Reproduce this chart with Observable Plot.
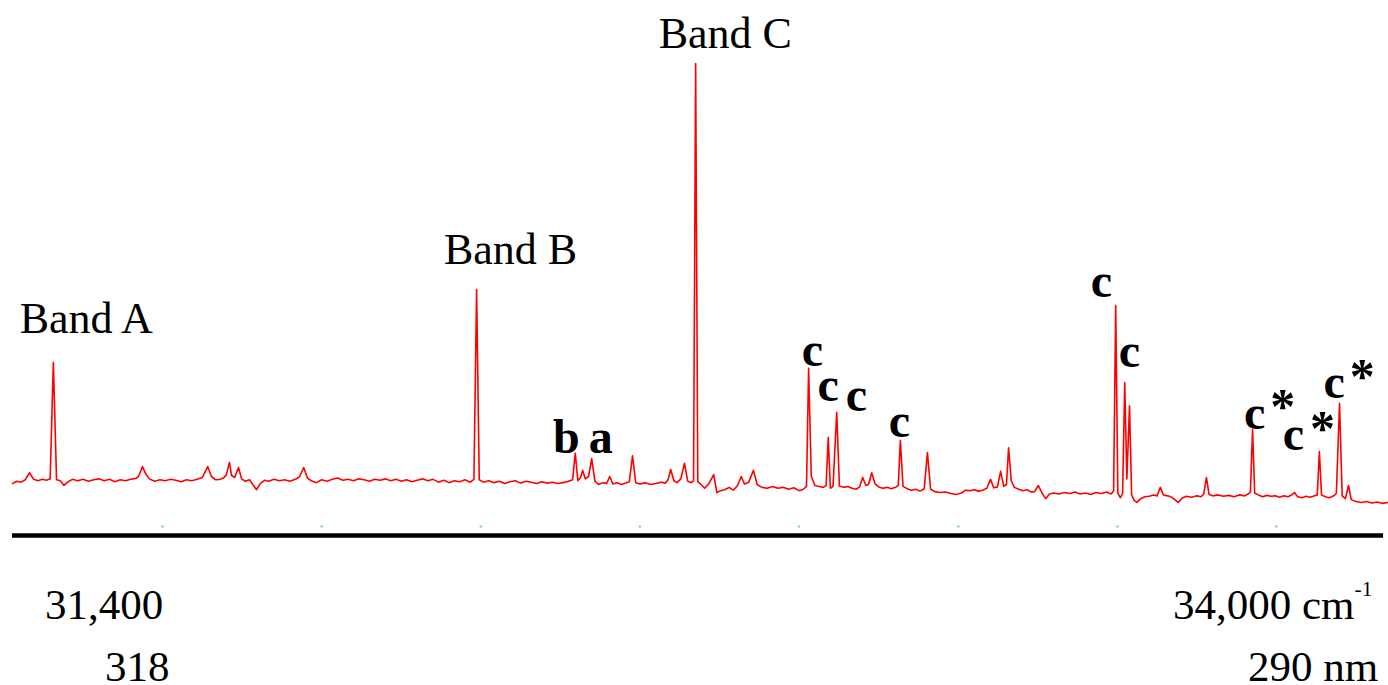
<!DOCTYPE html>
<html>
<head>
<meta charset="utf-8">
<script src="https://cdn.jsdelivr.net/npm/d3@7"></script>
<script src="https://cdn.jsdelivr.net/npm/@observablehq/plot@0.6"></script>
<style>
  html, body { margin: 0; padding: 0; background: #fff; }
  #wrap { position: relative; width: 1388px; height: 685px; overflow: hidden; font-family: "Liberation Serif", "Times New Roman", serif; color: #000; }
  #chart { position: absolute; left: 0; top: 0; }
  .cap { position: absolute; font-size: 43px; line-height: 0.8; white-space: nowrap; }
  .cap sup { font-size: 0.5em; line-height: 0; vertical-align: 0; position: relative; top: -1.05em; }
</style>
</head>
<body>
<div id="wrap">
  <div id="chart"></div>
  <div class="cap" style="left:45px; top:588px;">31,400</div>
  <div class="cap" style="left:105px; top:650px;">318</div>
  <div class="cap" style="left:1173px; top:588px;">34,000 cm<sup>-1</sup></div>
  <div class="cap" style="left:1248px; top:650px;">290 nm</div>
</div>
<script>
// Excitation spectrum: [wavenumber (cm-1), signal (arb. units, Band C = 100)]
const spectrum = [
  [31417, 11.0], [31425, 11.5], [31433, 11.3], [31441, 11.8], [31449, 13.3], [31457, 11.9],
  [31465, 11.6], [31473, 11.9], [31481, 11.7], [31488, 12.0], [31494, 36.7], [31500, 11.8],
  [31507, 11.6], [31514, 10.6], [31522, 11.4], [31530, 11.9], [31540, 11.6], [31550, 11.9],
  [31560, 11.5], [31570, 11.8], [31580, 12.0], [31590, 11.6], [31600, 11.9], [31610, 11.4],
  [31620, 11.8], [31630, 11.6], [31640, 11.9], [31650, 12.1], [31655, 12.6], [31662, 14.6],
  [31668, 13.1], [31675, 12.0], [31685, 11.5], [31695, 11.8], [31705, 11.6], [31715, 11.9],
  [31725, 11.7], [31735, 11.4], [31745, 11.8], [31755, 11.6], [31765, 11.9], [31775, 12.3],
  [31785, 14.6], [31792, 12.5], [31800, 11.8], [31808, 11.9], [31815, 12.2], [31820, 12.8],
  [31826, 15.5], [31830, 12.7], [31836, 12.3], [31843, 14.4], [31849, 12.0], [31856, 11.5],
  [31864, 11.8], [31870, 10.8], [31877, 9.7], [31884, 11.0], [31892, 11.7], [31900, 11.5],
  [31910, 11.9], [31920, 11.6], [31930, 11.8], [31940, 11.5], [31950, 11.9], [31958, 12.4],
  [31966, 14.4], [31973, 12.2], [31980, 11.6], [31990, 11.2], [32000, 11.8], [32010, 11.5],
  [32020, 11.9], [32030, 12.2], [32040, 11.7], [32050, 11.9], [32060, 11.6], [32070, 12.0],
  [32080, 11.8], [32090, 11.5], [32100, 11.9], [32110, 11.7], [32120, 12.0], [32130, 11.6],
  [32140, 11.9], [32150, 11.5], [32160, 11.8], [32170, 11.4], [32180, 11.7], [32190, 12.0],
  [32200, 11.6], [32210, 11.9], [32220, 11.3], [32230, 11.7], [32240, 11.2], [32250, 11.6],
  [32260, 11.4], [32270, 11.8], [32280, 11.3], [32287, 11.9], [32292, 52.1], [32297, 11.8],
  [32305, 11.3], [32315, 11.6], [32325, 11.2], [32335, 11.5], [32345, 11.0], [32355, 11.4],
  [32365, 11.6], [32375, 11.1], [32385, 11.5], [32395, 11.3], [32405, 11.0], [32415, 11.4],
  [32425, 11.1], [32435, 11.3], [32445, 11.0], [32455, 11.2], [32465, 11.5], [32473, 11.8],
  [32478, 17.4], [32483, 11.6], [32488, 12.3], [32492, 13.8], [32497, 12.0], [32503, 12.5],
  [32509, 16.3], [32515, 11.5], [32522, 10.8], [32530, 11.2], [32537, 11.0], [32543, 12.5],
  [32549, 10.9], [32557, 11.2], [32565, 10.8], [32573, 11.1], [32580, 11.4], [32586, 16.9],
  [32592, 11.2], [32600, 10.9], [32610, 11.2], [32620, 10.8], [32630, 11.0], [32640, 11.3],
  [32648, 11.1], [32653, 11.8], [32658, 14.0], [32664, 11.6], [32670, 11.2], [32677, 12.0],
  [32684, 15.3], [32690, 11.5], [32697, 11.2], [32701, 11.6], [32705, 100.0], [32709, 11.4],
  [32715, 10.8], [32722, 10.0], [32730, 11.0], [32739, 12.9], [32745, 9.1], [32752, 9.5],
  [32760, 9.7], [32768, 10.2], [32776, 9.6], [32784, 10.6], [32791, 12.5], [32797, 10.9],
  [32805, 11.3], [32814, 13.8], [32821, 10.8], [32830, 10.2], [32840, 10.0], [32850, 10.4],
  [32860, 10.0], [32870, 10.2], [32880, 9.8], [32890, 10.1], [32900, 9.5], [32908, 9.8],
  [32914, 10.4], [32918, 35.4], [32923, 12.6], [32930, 10.6], [32938, 10.4], [32946, 10.2],
  [32951, 10.6], [32955, 20.8], [32959, 10.0], [32964, 10.4], [32971, 26.1], [32976, 10.5],
  [32984, 10.2], [32992, 10.4], [33000, 10.0], [33008, 9.8], [33014, 10.3], [33020, 12.3],
  [33026, 10.6], [33031, 10.8], [33037, 13.3], [33043, 11.0], [33050, 10.3], [33058, 10.0],
  [33066, 10.2], [33074, 9.9], [33082, 10.2], [33087, 10.6], [33091, 20.1], [33096, 10.4],
  [33104, 9.9], [33112, 9.6], [33120, 9.8], [33128, 9.4], [33136, 9.9], [33142, 17.6],
  [33148, 9.8], [33156, 9.3], [33166, 9.1], [33176, 9.2], [33186, 8.9], [33196, 8.7],
  [33206, 9.0], [33214, 9.6], [33222, 9.5], [33230, 9.7], [33238, 9.4], [33246, 9.6],
  [33254, 10.0], [33261, 11.9], [33267, 10.1], [33274, 10.3], [33280, 13.6], [33286, 10.4],
  [33291, 10.8], [33295, 18.6], [33300, 11.6], [33306, 10.2], [33314, 9.8], [33322, 9.5],
  [33330, 9.7], [33338, 9.2], [33344, 9.3], [33351, 10.6], [33358, 9.0], [33365, 7.8],
  [33372, 8.8], [33380, 9.0], [33390, 8.8], [33400, 9.1], [33410, 8.9], [33420, 9.2],
  [33430, 8.8], [33440, 9.0], [33450, 8.7], [33460, 9.1], [33470, 8.9], [33480, 9.2],
  [33488, 8.8], [33493, 9.4], [33497, 48.7], [33501, 9.0], [33506, 8.0], [33510, 9.0],
  [33514, 32.4], [33518, 12.0], [33523, 27.5], [33527, 8.6], [33532, 7.4], [33537, 7.0],
  [33544, 7.8], [33552, 8.2], [33560, 8.3], [33568, 8.6], [33575, 8.4], [33581, 10.2],
  [33587, 8.6], [33595, 8.4], [33603, 8.1], [33615, 7.0], [33622, 7.9], [33630, 8.3],
  [33640, 8.1], [33650, 8.4], [33658, 8.2], [33663, 8.8], [33668, 12.3], [33673, 8.7],
  [33680, 8.4], [33690, 8.6], [33700, 8.3], [33710, 8.5], [33720, 8.2], [33730, 8.6],
  [33740, 8.4], [33748, 8.9], [33751, 9.2], [33755, 22.5], [33759, 9.0], [33766, 8.6],
  [33774, 8.2], [33782, 8.5], [33790, 8.3], [33798, 8.4], [33806, 8.1], [33814, 8.4],
  [33822, 8.2], [33830, 8.7], [33834, 9.1], [33840, 8.2], [33848, 8.0], [33856, 8.3],
  [33864, 8.1], [33872, 8.4], [33877, 8.6], [33881, 17.8], [33885, 8.6], [33892, 8.2],
  [33900, 8.0], [33908, 8.4], [33913, 8.9], [33919, 28.0], [33924, 8.4], [33930, 7.8],
  [33936, 10.6], [33941, 7.6], [33950, 7.2], [33960, 7.0], [33970, 7.2], [33980, 6.9],
  [33990, 7.1], [34000, 6.8], [34010, 7.0]
];

// Band names (regular serif), placed over their peaks
const bandLabels = [
  {text: "Band A", x: 31556, y: 43.0},
  {text: "Band B", x: 32356, y: 57.6},
  {text: "Band C", x: 32761, y: 103.2}
];

// Assignment letters (bold serif)
const peakLetters = [
  {text: "b", x: 32461, y: 17.4},
  {text: "a", x: 32526, y: 17.4},
  {text: "c", x: 32925, y: 36.0},
  {text: "c", x: 32955, y: 28.4},
  {text: "c", x: 33008, y: 26.3},
  {text: "c", x: 33089, y: 20.8},
  {text: "c", x: 33470, y: 50.6},
  {text: "c", x: 33523, y: 35.6},
  {text: "c", x: 33759, y: 22.5},
  {text: "c", x: 33832, y: 18.2},
  {text: "c", x: 33909, y: 29.2}
];

// Asterisks marking the c* assignments (raised, to the right of each c)
const starMarks = [
  {text: "*", x: 33812, y: 31.3},
  {text: "*", x: 33887, y: 26.7},
  {text: "*", x: 33962, y: 37.7}
];

// Wavenumber tick dots along the baseline and the axis extent
const tickDots = [31700, 32000, 32300, 32600, 32900, 33200, 33500, 33800];
const axisExtent = [{x1: 31417, x2: 34002}];

const serif = "Liberation Serif, Times New Roman, serif";

const chart = Plot.plot({
  width: 1388,
  height: 545,
  marginLeft: 3,
  marginRight: 6,
  marginTop: 63,
  marginBottom: 10,
  x: {domain: [31400, 34000], axis: null},
  y: {domain: [0, 100], axis: null},
  style: {background: "transparent", overflow: "visible"},
  marks: [
    Plot.ruleY(axisExtent, {x1: "x1", x2: "x2", y: () => 0, stroke: "#000", strokeWidth: 4.5}),
    Plot.dot(tickDots, {x: d => d, y: () => 1.9, r: 1.3, fill: "#7ee67e", stroke: "none"}),
    Plot.line(spectrum, {x: d => d[0], y: d => d[1], stroke: "#ff0000", strokeWidth: 1.6, strokeLinejoin: "round"}),
    Plot.text(bandLabels, {x: "x", y: "y", text: "text", fontSize: 44, fontFamily: serif, textAnchor: "middle", lineAnchor: "bottom", fill: "#000"}),
    Plot.text(peakLetters, {x: "x", y: "y", text: "text", fontSize: 48, fontWeight: "bold", fontFamily: serif, textAnchor: "middle", lineAnchor: "bottom", fill: "#000"}),
    Plot.text(starMarks, {x: "x", y: "y", text: "text", fontSize: 50, fontWeight: "bold", fontFamily: serif, textAnchor: "middle", lineAnchor: "top", fill: "#000"})
  ]
});

document.getElementById("chart").appendChild(chart);
</script>
</body>
</html>
